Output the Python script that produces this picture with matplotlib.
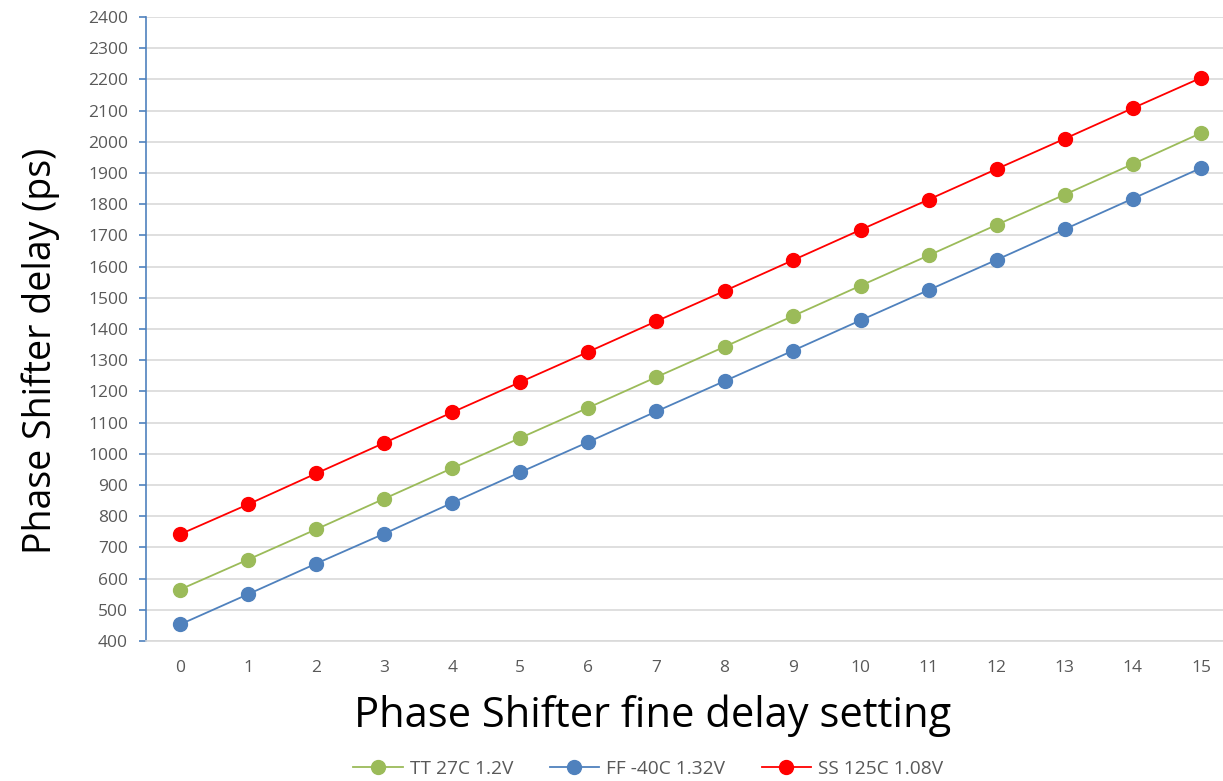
import numpy as np
import matplotlib.pyplot as plt
import matplotlib

settings = list(range(16))
tt_27c = [565, 661, 758, 856, 954, 1051, 1148, 1246, 1343, 1441, 1539, 1636, 1734, 1831, 1929, 2028]
ff_m40c = [453, 550, 648, 744, 843, 941, 1038, 1136, 1233, 1330, 1428, 1525, 1622, 1720, 1818, 1916]
ss_125c = [742, 838, 937, 1035, 1133, 1230, 1327, 1425, 1522, 1620, 1718, 1815, 1913, 2010, 2108, 2205]
yticks = list(range(400, 2401, 100))

matplotlib.rc('font', family=['Open Sans', 'DejaVu Sans'])
gray = '#595959'

fig = plt.figure(figsize=(12.23, 7.81), dpi=100)
ax = fig.add_axes([146/1223, 140/781, 1089/1223, 624/781])

ax.plot(settings, tt_27c, '-o', color='#9BBB59', lw=1.3, ms=10, label='TT 27C 1.2V')
ax.plot(settings, ff_m40c, '-o', color='#4F81BD', lw=1.3, ms=10, label='FF -40C 1.32V')
ax.plot(settings, ss_125c, '-o', color='#FF0000', lw=1.3, ms=10, label='SS 125C 1.08V')

ax.set_xlim(-0.5, 15.5)
ax.set_ylim(400, 2400)
ax.set_xticks(settings)
ax.set_yticks(yticks)
ax.grid(axis='y', color='#D9D9D9', lw=1.2)
ax.set_axisbelow(True)

for s in ['top', 'right']:
    ax.spines[s].set_visible(False)
ax.spines['left'].set_color('#4F81BD')
ax.spines['left'].set_linewidth(1.2)
ax.spines['bottom'].set_color('#D9D9D9')
ax.spines['bottom'].set_linewidth(1.2)
ax.tick_params(axis='y', colors='#4F81BD', labelcolor=gray, labelsize=12.5, length=5, width=1.2, pad=8)
ax.tick_params(axis='x', length=0, labelcolor=gray, labelsize=12.5, pad=14)

ax.set_xlabel('Phase Shifter fine delay setting', fontsize=30)
ax.xaxis.set_label_coords(0.465, -0.085)
ax.set_ylabel('Phase Shifter delay (ps)', fontsize=27)
ax.yaxis.set_label_coords(-0.079, 0.465)

fig.legend(loc='lower center', bbox_to_anchor=(0.53, -0.018), ncol=3, frameon=False,
           fontsize=13.8, labelcolor=gray, handlelength=2.6, handletextpad=0.35,
           columnspacing=1.9)

plt.savefig('out.png', dpi=100)
